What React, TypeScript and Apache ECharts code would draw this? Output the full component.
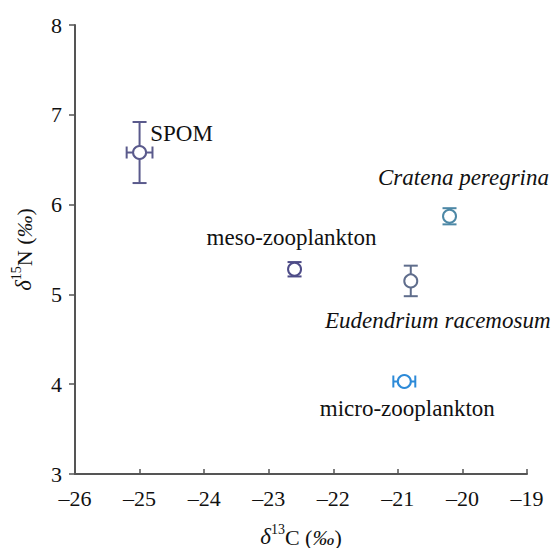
import React, { useEffect, useRef } from "react";
import * as echarts from "echarts";

const names = ["SPOM", "meso-zooplankton", "Cratena peregrina", "Eudendrium racemosum", "micro-zooplankton"];
const d13C = [-25.0, -22.6, -20.2, -20.8, -20.9];
const d15N = [6.58, 5.28, 5.87, 5.15, 4.03];
const d13CErr = [0.2, 0.0, 0.0, 0.0, 0.17];
const d15NErr = [0.34, 0.08, 0.09, 0.17, 0.0];
const colors = ["#5a5a8c", "#4e4c88", "#4d88a6", "#5f6d8c", "#2c8ad8"];
const italic = [false, false, true, true, false];
const labelOffsets = [[42, -19], [-3, -32], [14, -39], [27, 40], [3, 27]];
const xTicks = [-26, -25, -24, -23, -22, -21, -20, -19];
const yTicks = [3, 4, 5, 6, 7, 8];

const FONT = "Liberation Serif";

export default function App() {
  const ref = useRef<HTMLDivElement>(null);
  useEffect(() => {
    const chart = echarts.init(ref.current!, undefined, { renderer: "svg" });
    const errData = names.map((_, i) => [d13C[i], d15N[i], d13CErr[i], d15NErr[i], i]);
    const rich = {
      d: { fontFamily: FONT, fontStyle: "italic", fontSize: 23, color: "#111", verticalAlign: "bottom", lineHeight: 26 },
      sup: { fontFamily: FONT, fontSize: 14, color: "#111", verticalAlign: "top", lineHeight: 26 },
      t: { fontFamily: FONT, fontSize: 22, color: "#111", verticalAlign: "bottom", lineHeight: 26 },
      i: { fontFamily: FONT, fontStyle: "italic", fontSize: 22, color: "#111", verticalAlign: "bottom", lineHeight: 26 },
    };
    chart.setOption({
      animation: false,
      backgroundColor: "#ffffff",
      textStyle: { fontFamily: FONT },
      grid: { left: 75, right: 28, top: 25, bottom: 74, containLabel: false, outerBoundsMode: "none" },
      xAxis: {
        type: "value",
        min: xTicks[0],
        max: xTicks[xTicks.length - 1],
        interval: 1,
        axisLine: { lineStyle: { color: "#555", width: 2 } },
        axisTick: { inside: true, length: 5, lineStyle: { color: "#555", width: 1.5 } },
        splitLine: { show: false },
        axisLabel: {
          color: "#111",
          margin: 13,
          fontFamily: FONT,
          fontSize: 22,
          formatter: (v: number) => String(v).replace("-", "\u2013"),
        },
        name: "{d|δ}{sup|13}{t|C (}{i|‰}{t|)}",
        nameLocation: "middle",
        nameGap: 48,
        nameTextStyle: { fontFamily: FONT, rich },
      },
      yAxis: {
        type: "value",
        min: yTicks[0],
        max: yTicks[yTicks.length - 1],
        interval: 1,
        axisLine: { show: true, lineStyle: { color: "#555", width: 2 } },
        axisTick: { show: true, inside: false, length: 6, lineStyle: { color: "#555", width: 1.5 } },
        splitLine: { show: false },
        axisLabel: { color: "#111", margin: 13, fontFamily: FONT, fontSize: 22 },
        name: "{d|δ}{sup|15}{t|N (}{i|‰}{t|)}",
        nameLocation: "middle",
        nameGap: 40,
        nameRotate: 90,
        nameTextStyle: { fontFamily: FONT, rich },
      },
      series: [
        {
          type: "custom",
          data: errData,
          z: 1,
          renderItem: (params: any, api: any) => {
            const x = api.value(0), y = api.value(1), xe = api.value(2), ye = api.value(3);
            const idx = api.value(4);
            const col = colors[idx];
            const style = { stroke: col, lineWidth: 2 };
            const children: any[] = [];
            if (ye > 0) {
              const t = api.coord([x, y + ye]);
              const b = api.coord([x, y - ye]);
              const cw = 7;
              children.push({ type: "line", shape: { x1: t[0], y1: t[1], x2: b[0], y2: b[1] }, style });
              children.push({ type: "line", shape: { x1: t[0] - cw, y1: t[1], x2: t[0] + cw, y2: t[1] }, style });
              children.push({ type: "line", shape: { x1: b[0] - cw, y1: b[1], x2: b[0] + cw, y2: b[1] }, style });
            }
            if (xe > 0) {
              const l = api.coord([x - xe, y]);
              const r = api.coord([x + xe, y]);
              const ch = 6;
              children.push({ type: "line", shape: { x1: l[0], y1: l[1], x2: r[0], y2: r[1] }, style });
              children.push({ type: "line", shape: { x1: l[0], y1: l[1] - ch, x2: l[0], y2: l[1] + ch }, style });
              children.push({ type: "line", shape: { x1: r[0], y1: r[1] - ch, x2: r[0], y2: r[1] + ch }, style });
            }
            return { type: "group", children };
          },
        },
        {
          type: "scatter",
          z: 3,
          symbol: "circle",
          symbolSize: 13,
          data: names.map((n, i) => ({
            name: n,
            value: [d13C[i], d15N[i]],
            itemStyle: { color: "#ffffff", borderColor: colors[i], borderWidth: 2, opacity: 1 },
            label: {
              show: true,
              formatter: n,
              position: "inside",
              offset: labelOffsets[i],
              fontFamily: FONT,
              fontSize: 23,
              color: "#111",
              fontStyle: italic[i] ? "italic" : "normal",
            },
          })),
        },
      ],
    });
    return () => chart.dispose();
  }, []);
  return <div ref={ref} style={{ width: 555, height: 548, position: "absolute", left: 0, top: 0 }} />;
}
